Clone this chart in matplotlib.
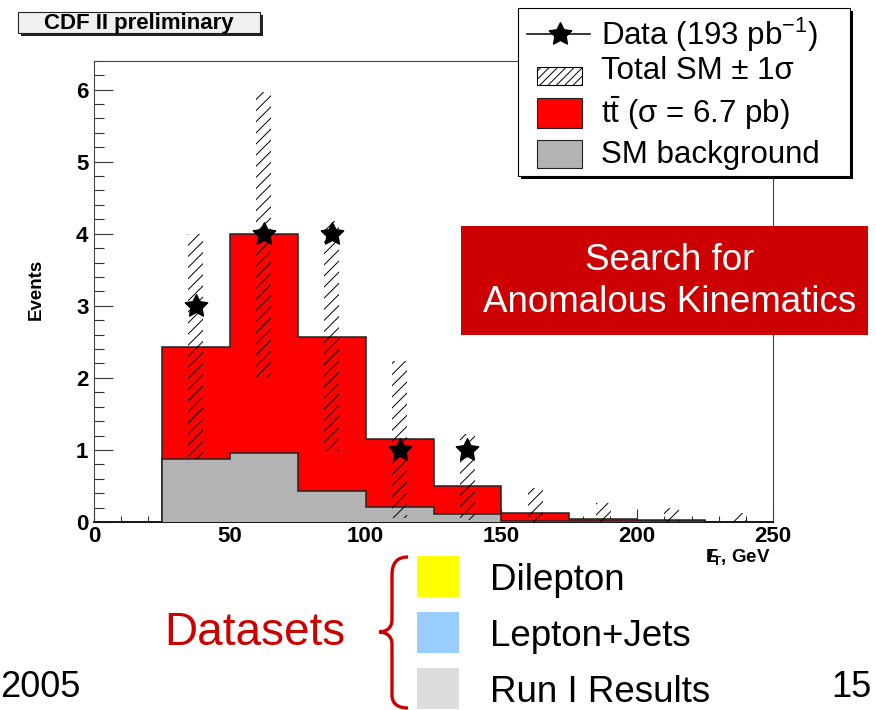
import matplotlib
matplotlib.use("Agg")
import matplotlib.pyplot as plt
from matplotlib.patches import Rectangle, PathPatch
from matplotlib.path import Path
import numpy as np

plt.rcParams['font.family'] = ['Liberation Sans', 'DejaVu Sans']
plt.rcParams['mathtext.fontset'] = 'custom'
plt.rcParams['mathtext.rm'] = 'Liberation Sans'
plt.rcParams['mathtext.it'] = 'Liberation Sans:italic'
plt.rcParams['mathtext.bf'] = 'Liberation Sans:bold'
plt.rcParams['hatch.linewidth'] = 0.7

# histogram, 25 GeV bins
bin_edges = [0, 25, 50, 75, 100, 125, 150, 175, 200, 225, 250]
total_sm = [0, 2.43, 4.0, 2.57, 1.15, 0.50, 0.13, 0.04, 0.025, 0]
sm_background = [0, 0.88, 0.96, 0.43, 0.21, 0.11, 0.01, 0.02, 0.015, 0]

# total SM +- 1 sigma band (drawn at the bin centres)
band_x = [37.5, 62.5, 87.5, 112.5, 137.5, 162.5, 187.5, 212.5, 237.5]
band_low = [0.87, 2.0, 0.98, 0.05, 0.03, 0.0, 0.0, 0.0, 0.0]
band_high = [4.0, 5.97, 4.17, 2.23, 1.22, 0.47, 0.26, 0.19, 0.12]

# observed events
data_x = [37.5, 62.5, 87.5, 112.5, 137.5]
data_y = [3, 4, 4, 1, 1]

legend_labels = ['Data (193 pb$^{\\mathregular{-1}}$)', 'Total SM \u00b1 1\u03c3',
                 '$\\mathregular{t\\bar{t}}$ (\u03c3 = 6.7 pb)', 'SM background']
dataset_names = ['Dilepton', 'Lepton+Jets', 'Run I Results']
dataset_colors = ['#ffff00', '#99ccff', '#dddddd']

# fatter five point star, like the ROOT marker
star = Path.unit_regular_star(5, innerCircle=0.5)

W, H = 876, 710
fig = plt.figure(figsize=(W / 100, H / 100), dpi=100)
ax = fig.add_axes([94 / W, (H - 522) / H, (773 - 94) / W, (522 - 60.7) / H])

ax.stairs(total_sm, bin_edges, fill=True, facecolor='#ff0000', edgecolor='#222222', linewidth=1.1, zorder=2)
ax.stairs(sm_background, bin_edges, fill=True, facecolor='#b3b3b3', edgecolor='#222222', linewidth=1.1, zorder=3)

heights = np.array(band_high) - np.array(band_low)
ax.bar(band_x, heights, bottom=band_low, width=5.5, fill=False, hatch='///',
       edgecolor='black', linewidth=0, zorder=4)

ax.plot(data_x, data_y, linestyle='none', marker=star, markersize=17, color='black', zorder=5)

ax.set_xlim(0, 250)
ax.set_ylim(0, 6.4)
ax.set_xticks(range(0, 251, 50))
ax.set_xticks(range(0, 251, 10), minor=True)
ax.set_yticks(range(0, 7))
ax.set_yticks(np.arange(0, 6.41, 0.2), minor=True)
ax.tick_params(axis='both', which='both', direction='in', color='#333333', width=0.8)
ax.tick_params(axis='y', which='major', length=13.5, pad=4)
ax.tick_params(axis='y', which='minor', length=7)
ax.tick_params(axis='x', which='major', length=9.5, pad=3)
ax.tick_params(axis='x', which='minor', length=4.5)
for lab in ax.get_xticklabels() + ax.get_yticklabels():
    lab.set_fontsize(16)
    lab.set_fontweight('bold')
for sp in ax.spines.values():
    sp.set_color('#444444')
    sp.set_linewidth(0.8)
ax.spines['bottom'].set_linewidth(1.4)
ax.spines['bottom'].set_color('#111111')

# overlay in pixel coordinates for the boxes and slide text
ov = fig.add_axes([0, 0, 1, 1], zorder=10)
ov.set_xlim(0, W)
ov.set_ylim(H, 0)
ov.axis('off')
ov.patch.set_alpha(0)

ov.text(36, 289, 'Events', rotation=90, fontsize=13.5, fontweight='bold', ha='center', va='center')
ov.text(771, 557, r'$\mathbf{E}\!\!\!\!\mathbf{/}_{\mathbf{T}}$, GeV', fontsize=13.5, fontweight='bold',
        ha='right', va='center')

# CDF II preliminary box
ov.add_patch(Rectangle((21, 15), 242, 21, facecolor='#222222', edgecolor='none'))
ov.add_patch(Rectangle((18, 12), 242, 21, facecolor='#f0f0f0', edgecolor='#222222', linewidth=0.8))
ov.text(139, 23, 'CDF II preliminary', fontsize=16, fontweight='bold', ha='center', va='center')

# legend box
ov.add_patch(Rectangle((521, 11), 332, 168, facecolor='black', edgecolor='none'))
ov.add_patch(Rectangle((518, 8), 332, 168, facecolor='white', edgecolor='black', linewidth=0.8))
ov.plot([527, 590], [34, 34], color='black', linewidth=1.1)
ov.plot([560], [34], marker=star, markersize=17, color='black')
ov.add_patch(Rectangle((537, 67), 45, 18, facecolor='white', edgecolor='black', hatch='////', linewidth=0.8))
ov.add_patch(Rectangle((537, 98), 45, 30, facecolor='#ff0000', edgecolor='#222222', linewidth=0.8))
ov.add_patch(Rectangle((537, 140), 45, 28, facecolor='#b3b3b3', edgecolor='#222222', linewidth=0.8))
for lab, y in zip(legend_labels, [35, 71, 113, 155]):
    ov.text(601, y, lab, fontsize=22.5, ha='left', va='center')

# red label box
ov.add_patch(Rectangle((461, 226), 407, 109, facecolor='#cc0000', edgecolor='none'))
ov.text(670, 260, 'Search for', fontsize=26.5, color='white', ha='center', va='center')
ov.text(670, 302, 'Anomalous Kinematics', fontsize=26.5, color='white', ha='center', va='center')

# datasets brace and boxes
ov.text(345, 645, 'Datasets', fontsize=33, color='#cc0000', ha='right', va='baseline')
brace = Path([(408, 557), (397, 557), (392, 563), (392, 575),
              (392, 620),
              (392, 628), (386, 632), (379, 632),
              (386, 632), (392, 636), (392, 644),
              (392, 695),
              (392, 703), (397, 708), (408, 708)],
             [Path.MOVETO, Path.CURVE4, Path.CURVE4, Path.CURVE4,
              Path.LINETO,
              Path.CURVE4, Path.CURVE4, Path.CURVE4,
              Path.CURVE4, Path.CURVE4, Path.CURVE4,
              Path.LINETO,
              Path.CURVE4, Path.CURVE4, Path.CURVE4])
ov.add_patch(PathPatch(brace, facecolor='none', edgecolor='#cc0000', linewidth=2.4))
for name, col, y in zip(dataset_names, dataset_colors, [556, 612, 668]):
    ov.add_patch(Rectangle((417, y), 42, 41, facecolor=col, edgecolor='none'))
    ov.text(490, y + 34, name, fontsize=26.5, ha='left', va='baseline')

ov.text(0, 697, '2005', fontsize=26, ha='left', va='baseline')
ov.text(872, 697, '15', fontsize=26, ha='right', va='baseline')

fig.savefig('out.png', dpi=100)
